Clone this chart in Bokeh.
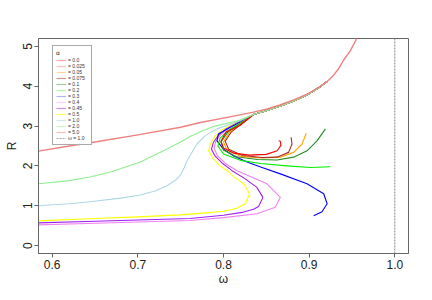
from bokeh.plotting import figure
from bokeh.models import Range1d, FixedTicker, Span, Legend, LegendItem
from bokeh.embed import file_html
from bokeh.resources import INLINE

# ---- data ----
X_TICKS = [0.6, 0.7, 0.8, 0.9, 1.0]
X_TICK_LABELS = ["0.6", "0.7", "0.8", "0.9", "1.0"]
Y_TICKS = [0, 1, 2, 3, 4, 5]
Y_TICK_LABELS = ["0", "1", "2", "3", "4", "5"]

# shared upper branch (the curves for alpha <= 2 end on it)
W_BB = [0.835, 0.851, 0.866, 0.882, 0.8975, 0.913, 0.921]
R_BB = [3.29, 3.39, 3.50, 3.63, 3.78, 3.99, 4.12]

W_A000 = [0.8644, 0.8664, 0.867, 0.8625, 0.850, 0.830, 0.812, 0.800, 0.797, 0.803, 0.8196]
R_A000 = [2.63, 2.62, 2.51, 2.38, 2.29, 2.27, 2.32, 2.45, 2.62, 2.85, 3.02]

W_A050 = [0.8967, 0.8917, 0.8819, 0.8664, 0.845, 0.820, 0.804, 0.800, 0.807, 0.8196]
R_A050 = [2.82, 2.55, 2.34, 2.22, 2.20, 2.24, 2.40, 2.60, 2.85, 3.04]

W_A075 = [0.8789, 0.880, 0.876, 0.8625, 0.845, 0.822, 0.806, 0.802, 0.809, 0.8196]
R_A075 = [2.72, 2.55, 2.34, 2.22, 2.21, 2.26, 2.42, 2.62, 2.85, 3.03]

W_A100 = [0.919, 0.9092, 0.8975, 0.8819, 0.8625, 0.840, 0.815, 0.800, 0.797, 0.805, 0.8196]
R_A100 = [2.93, 2.63, 2.38, 2.22, 2.15, 2.16, 2.23, 2.40, 2.60, 2.85, 3.06]

W_A200 = [0.9248, 0.9014, 0.8742, 0.843, 0.8196, 0.800, 0.7935, 0.796, 0.806, 0.8196]
R_A200 = [1.98, 1.96, 2.00, 2.06, 2.14, 2.30, 2.50, 2.70, 2.90, 3.08]

W_A300 = [0.9053, 0.915, 0.921, 0.917, 0.8975, 0.8664, 0.845, 0.8275, 0.812, 0.800, 0.7924, 0.794, 0.808, 0.8196]
R_A300 = [0.75, 0.85, 1.05, 1.30, 1.55, 1.80, 1.96, 2.10, 2.25, 2.42, 2.63, 2.80, 2.97, 3.10]

W_A400 = [0.584, 0.65, 0.70, 0.761, 0.80, 0.839, 0.8605, 0.8664, 0.8508, 0.8158, 0.803, 0.793, 0.789, 0.791, 0.797, 0.806, 0.8196]
R_A400 = [0.52, 0.56, 0.59, 0.63, 0.70, 0.80, 0.96, 1.21, 1.55, 1.88, 2.05, 2.25, 2.45, 2.62, 2.79, 2.95, 3.11]

W_A450 = [0.584, 0.65, 0.70, 0.761, 0.80, 0.8235, 0.835, 0.841, 0.846, 0.839, 0.825, 0.810, 0.798, 0.790, 0.786, 0.788, 0.794, 0.803, 0.8196]
R_A450 = [0.57, 0.61, 0.64, 0.68, 0.76, 0.84, 0.91, 0.98, 1.21, 1.46, 1.68, 1.88, 2.08, 2.25, 2.42, 2.58, 2.77, 2.93, 3.12]

W_A500 = [0.584, 0.65, 0.70, 0.75, 0.78, 0.80, 0.815, 0.8255, 0.8305, 0.8235, 0.812, 0.804, 0.795, 0.788, 0.7826, 0.7846, 0.7904, 0.800, 0.8196]
R_A500 = [0.62, 0.68, 0.72, 0.77, 0.82, 0.86, 0.93, 1.05, 1.30, 1.55, 1.73, 1.88, 2.02, 2.18, 2.38, 2.55, 2.76, 2.93, 3.14]

W_A1 = [0.584, 0.62, 0.644, 0.68, 0.703, 0.72, 0.734, 0.745, 0.7495, 0.754, 0.7574, 0.761, 0.769, 0.7787, 0.7924, 0.8196]
R_A1 = [1.00, 1.05, 1.10, 1.19, 1.27, 1.37, 1.50, 1.66, 1.76, 1.95, 2.13, 2.26, 2.55, 2.76, 2.93, 3.14]

W_A2 = [0.584, 0.62, 0.644, 0.67, 0.703, 0.73, 0.75, 0.761, 0.773, 0.79, 0.812, 0.8196]
R_A2 = [1.55, 1.63, 1.72, 1.86, 2.10, 2.38, 2.60, 2.74, 2.86, 3.00, 3.11, 3.15]

W_A5 = [0.584, 0.62, 0.65, 0.70, 0.75, 0.773, 0.812, 0.835, 0.851, 0.866, 0.882, 0.8975, 0.913, 0.921, 0.9286, 0.935, 0.9403, 0.948, 0.9551, 0.958]
R_A5 = [2.37, 2.50, 2.60, 2.78, 2.97, 3.09, 3.25, 3.35, 3.43, 3.53, 3.66, 3.80, 4.00, 4.12, 4.28, 4.46, 4.66, 4.89, 5.18, 5.30]

LEGEND_LABELS = ["= 0.0", "= 0.025", "= 0.05", "= 0.075", "= 0.1", "= 0.2", "= 0.3",
                 "= 0.4", "= 0.45", "= 0.5", "= 1.0", "= 2.0", "= 5.0", "\u03c9 = 1.0"]
OMEGA_REF = 1.0

# ---- figure ----
p = figure(width=424, height=292, output_backend="svg", toolbar_location=None,
           x_range=Range1d(0.584, 1.016), y_range=Range1d(-0.2, 5.2),
           min_border_left=38, min_border_right=16, min_border_top=38, min_border_bottom=39)
p.extra_y_ranges = {"keys": Range1d(100, 101)}  # off-screen range for legend key lines
p.grid.visible = False
p.outline_line_color = "#666666"
p.background_fill_color = "white"
p.border_fill_color = "white"

FONT = "Liberation Sans"
for ax in (p.xaxis[0], p.yaxis[0]):
    ax.axis_line_color = "#666666"
    ax.major_tick_line_color = "#666666"
    ax.major_tick_in = 0
    ax.major_tick_out = 4
    ax.minor_tick_line_color = None
    ax.major_label_text_font = FONT
    ax.major_label_text_font_size = "12px"
    ax.major_label_text_color = "#222222"
    ax.axis_label_text_font = FONT
    ax.axis_label_text_font_size = "12px"
    ax.axis_label_text_font_style = "normal"
    ax.axis_label_text_color = "#222222"
    ax.major_label_standoff = 2

p.xaxis.ticker = FixedTicker(ticks=X_TICKS)
p.xaxis.major_label_overrides = {t: l for t, l in zip(X_TICKS, X_TICK_LABELS)}
p.yaxis.ticker = FixedTicker(ticks=Y_TICKS)
p.yaxis.major_label_overrides = {t: l for t, l in zip(Y_TICKS, Y_TICK_LABELS)}
p.yaxis.major_label_orientation = "vertical"
p.xaxis.axis_label = "\u03c9"
p.yaxis.axis_label = "R"
p.xaxis.axis_label_standoff = 0
p.yaxis.axis_label_standoff = 2

p.add_layout(Span(location=OMEGA_REF, dimension="height", line_color="#888888",
                  line_dash="2 1", line_width=1))

LW = 1.1
series = [
    (W_A500, R_A500, "#FFFF00"),
    (W_A450, R_A450, "#A020F0"),
    (W_A400, R_A400, "#EE82EE"),
    (W_A300, R_A300, "#0000FF"),
    (W_A200, R_A200, "#00EE00"),
    (W_A100, R_A100, "#228B22"),
    (W_A050, R_A050, "#FFA500"),
    (W_A075, R_A075, "#A52A2A"),
    (W_A000, R_A000, "#FF0000"),
    (W_A1, R_A1, "#ADD8E6"),
    (W_A2, R_A2, "#90EE90"),
]
for w, r, c in series:
    p.line(w + W_BB, r + R_BB, line_color=c, line_width=LW, line_join="round")
p.line(W_A5, R_A5, line_color="#F08080", line_width=1.4, line_join="round")

# legend (faded keys, as in the picture); key renderers live on an off-screen range
legend_colors = ["#FF0000", "#FF8080", "#FFA500", "#A52A2A", "#228B22", "#00EE00", "#0000FF",
                 "#EE82EE", "#A020F0", "#FFFF00", "#ADD8E6", "#90EE90", "#F08080", "#999999"]
legend_alpha = [0.35, 0.5, 0.4, 0.5, 0.45, 0.35, 0.3, 0.35, 0.5, 0.7, 0.6, 0.5, 0.5, 0.8]
items = []
for i, lab in enumerate(LEGEND_LABELS):
    dash = "2 1" if i == len(LEGEND_LABELS) - 1 else "solid"
    rr = p.line(W_A000, R_A000, y_range_name="keys", line_color=legend_colors[i],
                line_alpha=legend_alpha[i], line_width=1.2, line_dash=dash)
    items.append(LegendItem(label=lab, renderers=[rr]))

leg = Legend(items=items, location=(14, 108), title="\u03b1")
leg.margin = 0
leg.padding = 3
leg.spacing = 0
leg.glyph_width = 10
leg.glyph_height = 6
leg.label_height = 6
leg.label_standoff = 2
leg.label_text_font = FONT
leg.label_text_font_size = "5px"
leg.label_text_color = "#333333"
leg.title_text_font = "DejaVu Sans"
leg.title_text_font_size = "6px"
leg.title_text_font_style = "normal"
leg.title_text_color = "#333333"
leg.title_standoff = 1
leg.border_line_color = "#555555"
leg.border_line_width = 1
leg.background_fill_color = "white"
leg.background_fill_alpha = 1.0
p.add_layout(leg)

open("out.html", "w").write(file_html(p, INLINE))
